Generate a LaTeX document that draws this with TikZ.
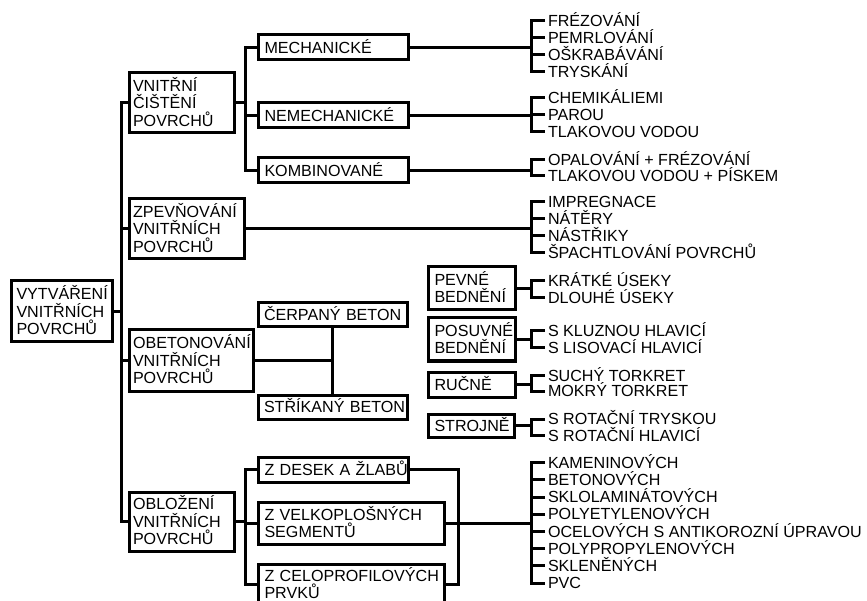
\documentclass[tikz,border=0pt]{standalone}
\usepackage{fontspec}
\setmainfont{Liberation Sans}
\newcommand\dgfont{\fontsize{16.1}{17.3}\selectfont\lineskiplimit=-20pt\hyphenpenalty=10000\exhyphenpenalty=10000\relax}
% #1 inner xsep, #2 extra options, #3 name, #4 x1, #5 y1, #6 x2, #7 y2, #8 text
\newcommand\bx[8][6.5]{%
  \pgfmathsetmacro\bxw{#6-#4-2*#1}%
  \pgfmathsetmacro\bxh{#7-#5}%
  \node[box, #2, inner xsep=#1pt, text width=\bxw pt, minimum height=\bxh pt] (#3) at ({(#4+#6)/2},{(#5+#7)/2}) {#8};%
}
\tikzset{
  conn/.style={line width=3pt},
  box/.style={draw, line width=3pt, align=left, inner ysep=0pt, text height=11.5pt, text depth=0pt, font=\dgfont},
  lone/.style={text depth=0pt},
  lthree/.style={text depth=34.6pt},
  ltwo/.style={text depth=17.3pt},
  item/.style={anchor=west, inner xsep=3pt, inner ysep=0pt, outer sep=0pt, text height=11.5pt, text depth=0pt, font=\dgfont}
}
\begin{document}
\begin{tikzpicture}[x=1pt,y=-1pt]
\useasboundingbox (0,0) rectangle (867,601);
\clip (0,0) rectangle (867,601);
\coordinate (s0) at (121,0);
\coordinate (s1) at (245,0);
\coordinate (bx) at (531,0);
\coordinate (rv) at (458,0);

% ---------- boxes ----------
\bx[5.5]{lthree}{root}{11}{281}{112}{342}{VYTVÁŘENÍ\\VNITŘNÍCH\\POVRCHŮ}
\bx[4]{lthree}{c1}{129}{73}{234}{133}{VNITŘNÍ\\ČIŠTĚNÍ\\POVRCHŮ}
\bx[4]{lthree}{c2}{129}{199}{244}{259}{ZPEVŇOVÁNÍ\\VNITŘNÍCH\\POVRCHŮ}
\bx[4]{lthree}{c3}{129}{330}{253}{391}{OBETONOVÁNÍ\\VNITŘNÍCH\\POVRCHŮ}
\bx[4]{lthree}{c4}{129}{492}{234}{551}{OBLOŽENÍ\\VNITŘNÍCH\\POVRCHŮ}

\bx{lone}{mech}{258}{35}{408}{60}{MECHANICKÉ}
\bx{lone}{nemech}{258}{103}{408}{128}{NEMECHANICKÉ}
\bx{lone}{komb}{258}{158}{408}{183}{KOMBINOVANÉ}

\bx[6]{lone}{cerp}{258}{303}{407}{327}{ČERPANÝ~BETON}
\bx[6]{lone}{strik}{258}{395}{407}{419}{STŘÍKANÝ~BETON}

\bx{ltwo}{pevne}{428}{267}{515}{310}{PEVNÉ\\BEDNĚNÍ}
\bx{ltwo}{posuv}{428}{318}{515}{361}{POSUVNÉ\\BEDNĚNÍ}
\bx{lone}{rucne}{428}{372}{515}{397}{RUČNĚ}
\bx{lone}{strojne}{428}{414}{514}{437}{STROJNĚ}

\bx{lone}{za}{258}{457}{408}{482}{Z~DESEK~A~ŽLABŮ}
\bx{ltwo}{zb}{258}{502}{444}{544}{Z~VELKOPLOŠNÝCH\\SEGMENTŮ}
\bx{ltwo}{zc}{258}{564}{444}{605}{Z~CELOPROFILOVÝCH\\PRVKŮ}

% ---------- item texts ----------
\node[item] (m1) at (545,21) {FRÉZOVÁNÍ};
\node[item] (m2) at (545,38) {PEMRLOVÁNÍ};
\node[item] (m3) at (545,55) {OŠKRABÁVÁNÍ};
\node[item] (m4) at (545,72) {TRYSKÁNÍ};

\node[item] (n1) at (545,98) {CHEMIKÁLIEMI};
\node[item] (n2) at (545,115) {PAROU};
\node[item] (n3) at (545,132) {TLAKOVOU VODOU};

\node[item] (k1) at (545,159.5) {OPALOVÁNÍ + FRÉZOVÁNÍ};
\node[item] (k2) at (545,176) {TLAKOVOU VODOU + PÍSKEM};

\node[item] (p1) at (545,201.7) {IMPREGNACE};
\node[item] (p2) at (545,218.6) {NÁTĚRY};
\node[item] (p3) at (545,235.5) {NÁSTŘIKY};
\node[item] (p4) at (545,252.4) {ŠPACHTLOVÁNÍ POVRCHŮ};

\node[item] (e1) at (545,280.8) {KRÁTKÉ ÚSEKY};
\node[item] (e2) at (545,297.5) {DLOUHÉ ÚSEKY};

\node[item] (u1) at (545,330.8) {S KLUZNOU HLAVICÍ};
\node[item] (u2) at (545,347.5) {S LISOVACÍ HLAVICÍ};

\node[item] (r1) at (545,375.5) {SUCHÝ TORKRET};
\node[item] (r2) at (545,391) {MOKRÝ TORKRET};

\node[item] (t1) at (545,419.2) {S ROTAČNÍ TRYSKOU};
\node[item] (t2) at (545,435.8) {S ROTAČNÍ HLAVICÍ};

\node[item] (o1) at (545,462.5) {KAMENINOVÝCH};
\node[item] (o2) at (545,479.7) {BETONOVÝCH};
\node[item] (o3) at (545,497.0) {SKLOLAMINÁTOVÝCH};
\node[item] (o4) at (545,514.2) {POLYETYLENOVÝCH};
\node[item] (o5) at (545,531.5) {OCELOVÝCH S ANTIKOROZNÍ ÚPRAVOU};
\node[item] (o6) at (545,548.7) {POLYPROPYLENOVÝCH};
\node[item] (o7) at (545,565.9) {SKLENĚNÝCH};
\node[item] (o8) at (545,583.2) {PVC};

% ---------- main spine ----------
\draw[conn] (root.east) -- (root.east -| s0);
\draw[conn] (c1.west) -- (c1.west -| s0) -- (c4.west -| s0) -- (c4.west);
\draw[conn] (c2.west) -- (c2.west -| s0);
\draw[conn] (c3.west) -- (c3.west -| s0);

% ---------- cleaning ----------
\draw[conn] (c1.east) -- (c1.east -| s1);
\draw[conn] (mech.west) -- (mech.west -| s1) -- (komb.west -| s1) -- (komb.west);
\draw[conn] (nemech.west) -- (nemech.west -| s1);
\draw[conn] (mech.east) -- (mech.east -| bx);
\draw[conn] (nemech.east) -- (nemech.east -| bx);
\draw[conn] (komb.east) -- (komb.east -| bx);
\draw[conn] (m1.west) -- (m1.west -| bx) -- (m4.west -| bx) -- (m4.west);
\foreach \i in {m2,m3} \draw[conn] (\i.west) -- (\i.west -| bx);
\draw[conn] (n1.west) -- (n1.west -| bx) -- (n3.west -| bx) -- (n3.west);
\draw[conn] (n2.west) -- (n2.west -| bx);
\draw[conn] (k1.west) -- (k1.west -| bx) -- (k2.west -| bx) -- (k2.west);

% ---------- strengthening ----------
\draw[conn] (c2.east) -- (c2.east -| bx);
\draw[conn] (p1.west) -- (p1.west -| bx) -- (p4.west -| bx) -- (p4.west);
\foreach \i in {p2,p3} \draw[conn] (\i.west) -- (\i.west -| bx);

% ---------- concreting ----------
\draw[conn] (c3.east) -- (c3.east -| cerp.south);
\draw[conn] (cerp.south) -- (strik.north);
\foreach \b/\f/\l in {pevne/e1/e2, posuv/u1/u2, rucne/r1/r2, strojne/t1/t2} {
  \draw[conn] (\b.east) -- (\b.east -| bx);
  \draw[conn] (\f.west) -- (\f.west -| bx) -- (\l.west -| bx) -- (\l.west);
}

% ---------- lining ----------
\draw[conn] (c4.east) -- (c4.east -| s1);
\draw[conn] (za.west) -- (za.west -| s1) -- (zc.west -| s1) -- (zc.west);
\draw[conn] (zb.west) -- (zb.west -| s1);
\draw[conn] (za.east) -- (za.east -| rv) -- (zc.east -| rv) -- (zc.east);
\draw[conn] (zb.east) -- (zb.east -| bx);
\draw[conn] (o1.west) -- (o1.west -| bx) -- (o8.west -| bx) -- (o8.west);
\foreach \i in {o2,o3,o4,o5,o6,o7} \draw[conn] (\i.west) -- (\i.west -| bx);
\end{tikzpicture}
\end{document}
